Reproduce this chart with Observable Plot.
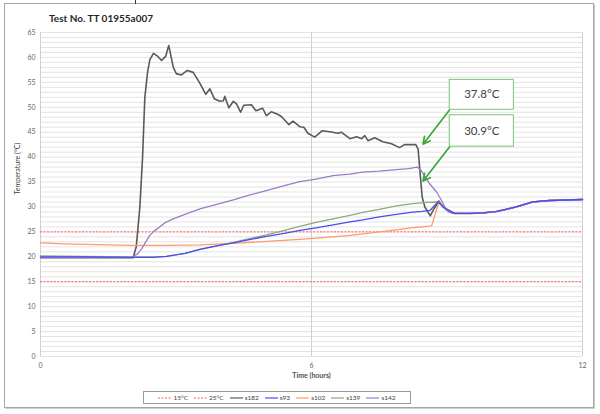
<!DOCTYPE html>
<html>
<head>
<meta charset="utf-8">
<script src="https://cdn.jsdelivr.net/npm/d3@7"></script>
<script src="https://cdn.jsdelivr.net/npm/@observablehq/plot@0.6"></script>
<style>
  html, body { margin: 0; padding: 0; background: #fff; }
  #wrap { position: relative; width: 600px; height: 414px; overflow: hidden; font-family: Lato, "Open Sans", sans-serif; }
  #frame { position: absolute; left: 4px; top: 3px; width: 588px; height: 403px; border: 1px solid #a6a6a6; box-shadow: 1px 1px 0 #cfcfcf; }
  #stray { position: absolute; left: 135px; top: 0; width: 1px; height: 4px; background: #333; }
  #title { position: absolute; left: 49px; top: 12px; font-weight: bold; font-size: 10px; color: #262626; white-space: nowrap; }
  #chart { position: absolute; left: 0; top: 0; }
  #legend { position: absolute; left: 143px; top: 391px; width: 266px; height: 11px; border: 1px solid #9a9a9a; background: #fff;
            display: flex; align-items: center; justify-content: center; gap: 6px; font-size: 6.5px; color: #404040; }
  #legend .item { display: flex; align-items: center; gap: 2px; white-space: nowrap; }
</style>
</head>
<body>
<div id="wrap">
  <div id="frame"></div>
  <div id="stray"></div>
  <div id="chart"></div>
  <div id="title">Test No. TT 01955a007</div>
  <div id="legend"></div>
</div>
<script>
// ---------- data ----------
const xTicks = [0, 6, 12];
const yTicks = [0, 5, 10, 15, 20, 25, 30, 35, 40, 45, 50, 55, 60, 65];
const limitNames = ["15°C", "25°C"];
const limitValues = [15, 25];

// common tail after the curves merge (hours, °C)
const mergedTime = [9.17, 9.5, 9.8, 10.1, 10.3, 10.53, 10.75, 10.9, 11.27, 11.64, 12];
const mergedTemp = [28.7, 28.7, 28.8, 29.1, 29.5, 30.0, 30.6, 31.0, 31.3, 31.4, 31.5];

const s182Time = [0, 1, 2.05, 2.12, 2.2, 2.26, 2.31, 2.37, 2.42, 2.5, 2.6, 2.68, 2.77, 2.84, 2.94, 3.01, 3.12, 3.25, 3.38, 3.45, 3.53, 3.66, 3.75, 3.85, 3.97, 4.05, 4.08, 4.17, 4.27, 4.34, 4.43, 4.5, 4.67, 4.77, 4.92, 5.0, 5.11, 5.25, 5.34, 5.5, 5.59, 5.74, 5.83, 5.92, 6.07, 6.24, 6.4, 6.59, 6.66, 6.85, 7.0, 7.11, 7.18, 7.25, 7.4, 7.58, 7.77, 7.95, 8.06, 8.31, 8.36, 8.4, 8.45, 8.51, 8.63, 8.71, 8.82, 8.91, 9.05];
const s182Temp = [19.8, 19.8, 19.8, 22, 30, 40, 52, 57, 59.5, 60.8, 60.2, 59.4, 60.2, 62.4, 58, 56.7, 56.5, 57.4, 57.0, 56.0, 54.8, 52.6, 53.7, 51.7, 51.2, 51.3, 52.2, 49.9, 51.2, 50.7, 49.0, 50.4, 50.5, 49.3, 49.8, 48.3, 49.1, 48.6, 48.1, 46.5, 47.2, 46.1, 46.0, 44.8, 44.0, 45.3, 45.1, 44.8, 45.0, 43.7, 44.1, 43.7, 44.3, 43.3, 43.9, 43.1, 42.7, 41.9, 42.5, 42.5, 41.6, 37.3, 32.0, 30.0, 28.2, 29.6, 31.2, 30.0, 29.0];

const s93Time = [0, 1, 2, 2.5, 2.79, 3.2, 3.53, 3.9, 4.27, 4.6, 5.0, 5.4, 5.74, 6.1, 6.48, 6.85, 7.14, 7.5, 7.88, 8.2, 8.45, 8.62, 8.8, 8.95];
const s93Temp = [20.0, 20.0, 19.9, 19.9, 20.1, 20.7, 21.5, 22.2, 22.8, 23.4, 24.1, 24.7, 25.3, 25.8, 26.4, 27.0, 27.4, 28.0, 28.5, 28.9, 29.1, 29.3, 31.0, 29.8];

const s102Time = [0, 0.5, 1.0, 1.5, 2.05, 2.79, 3.53, 4.27, 5.0, 5.74, 6.48, 6.85, 7.14, 7.5, 7.88, 8.2, 8.45, 8.66, 8.82, 8.95];
const s102Temp = [22.8, 22.6, 22.5, 22.4, 22.3, 22.3, 22.4, 22.7, 23.1, 23.5, 24.0, 24.3, 24.6, 25.0, 25.4, 25.8, 26.0, 26.2, 31.0, 29.8];

const s139Time = [0, 1, 2, 2.5, 2.79, 3.2, 3.53, 3.9, 4.27, 4.6, 5.0, 5.4, 5.74, 6.1, 6.48, 6.85, 7.14, 7.5, 7.88, 8.2, 8.54, 8.8, 8.95];
const s139Temp = [20.2, 20.1, 20.0, 20.0, 20.1, 20.7, 21.5, 22.2, 22.9, 23.6, 24.4, 25.3, 26.1, 26.9, 27.6, 28.3, 28.9, 29.5, 30.2, 30.6, 30.9, 31.0, 29.8];

const s142Time = [0, 1, 2.03, 2.15, 2.24, 2.33, 2.42, 2.52, 2.61, 2.75, 2.94, 3.2, 3.53, 3.9, 4.27, 4.6, 5.0, 5.4, 5.74, 6.1, 6.48, 6.85, 7.14, 7.5, 7.88, 8.15, 8.34, 8.43, 8.62, 8.77, 8.88, 8.99];
const s142Temp = [19.9, 19.9, 19.9, 20.6, 21.6, 23.0, 24.3, 25.2, 25.8, 26.8, 27.6, 28.5, 29.6, 30.5, 31.4, 32.3, 33.3, 34.3, 35.1, 35.6, 36.3, 36.6, 37.0, 37.2, 37.5, 37.7, 38.0, 37.3, 34.6, 33.0, 31.3, 29.3];

const seriesNames = ["s182", "s93", "s102", "s139", "s142"];
const seriesColors = ["#5a5a5a", "#4b4bf5", "#ff9a6a", "#8bab78", "#9e7bc9"];
const limitColor = "#ff5a5a";

// annotations
const annText = ["37.8°C", "30.9°C"];
const annBoxLeft = [9.06, 9.06];
const annBoxRight = [10.48, 10.48];
const annBoxBottom = [49.5, 42.1];
const annBoxTop = [55.5, 48.4];
const annTipX = [8.47, 8.47];
const annTipY = [42.6, 35.2];

// ---------- build tables ----------
const seriesTimes = [s182Time, s93Time, s102Time, s139Time, s142Time];
const seriesTemps = [s182Temp, s93Temp, s102Temp, s139Temp, s142Temp];
const lineData = seriesNames.map((name, i) => {
  const pts = seriesTimes[i].map((t, j) => ({t, v: seriesTemps[i][j], name}));
  mergedTime.forEach((t, j) => pts.push({t, v: mergedTemp[j], name}));
  return pts;
});
const ann = annText.map((label, i) => ({
  label,
  x1: annBoxLeft[i], x2: annBoxRight[i], y1: annBoxBottom[i], y2: annBoxTop[i],
  cx: (annBoxLeft[i] + annBoxRight[i]) / 2, cy: (annBoxBottom[i] + annBoxTop[i]) / 2,
  tx: annTipX[i], ty: annTipY[i]
}));

// draw order: s182, s102, s139, s142, s93 (blue on top of merged tail)
const drawOrder = [0, 2, 3, 4, 1];
const widths = [1.6, 1.3, 1.3, 1.3, 1.3];

const chart = Plot.plot({
  width: 600,
  height: 414,
  marginLeft: 40,
  marginRight: 18,
  marginTop: 32,
  marginBottom: 58,
  x: {domain: [0, 12]},
  y: {domain: [0, 65]},
  style: {background: "transparent", fontFamily: "Lato, 'Open Sans', sans-serif"},
  marks: [
    Plot.gridY(d3.range(0, 66, 1), {stroke: "#dcdcdc", strokeOpacity: 1, strokeWidth: 0.8}),
    Plot.gridX(xTicks, {stroke: "#cfcfcf", strokeOpacity: 1}),
    Plot.axisY(yTicks, {tickSize: 0, tickPadding: 5, fontSize: 7, fill: "#666", label: null}),
    Plot.axisX(xTicks, {tickSize: 0, tickPadding: 7, fontSize: 7, fill: "#666", label: null}),
    Plot.text(["Time (hours)"], {frameAnchor: "bottom", dy: 21, fontSize: 7, fontWeight: "bold", fill: "#505050"}),
    Plot.text(["Temperature (°C)"], {frameAnchor: "left", rotate: -90, dx: -23, fontSize: 7, fill: "#404040"}),
    Plot.ruleY(limitValues, {stroke: limitColor, strokeWidth: 1, strokeDasharray: "2,1.5"}),
    ...drawOrder.map(i => Plot.line(lineData[i], {x: "t", y: "v", stroke: seriesColors[i], strokeWidth: widths[i], curve: "linear"})),
    Plot.arrow(ann, {x1: "x1", y1: "y1", x2: "tx", y2: "ty", stroke: "#3aa83a", strokeWidth: 1.7, headLength: 7, headAngle: 55}),
    Plot.rect(ann, {x1: "x1", x2: "x2", y1: "y1", y2: "y2", fill: "white", stroke: "#76c576", strokeWidth: 1}),
    Plot.text(ann, {x: "cx", y: "cy", text: "label", fontSize: 11.5, fill: "#404040"})
  ]
});
document.getElementById("chart").appendChild(chart);

// ---------- legend ----------
const legend = document.getElementById("legend");
const legendItems = [
  ...limitNames.map(n => ({name: n, color: limitColor, dash: "2,1.5"})),
  ...seriesNames.map((n, i) => ({name: n, color: seriesColors[i], dash: null}))
];
legendItems.forEach(it => {
  const div = document.createElement("div");
  div.className = "item";
  div.innerHTML = `<svg width="13" height="4"><line x1="0" y1="2" x2="13" y2="2" stroke="${it.color}" stroke-width="1.2" ${it.dash ? `stroke-dasharray="${it.dash}"` : ""}/></svg><span>${it.name}</span>`;
  legend.appendChild(div);
});
</script>
</body>
</html>
